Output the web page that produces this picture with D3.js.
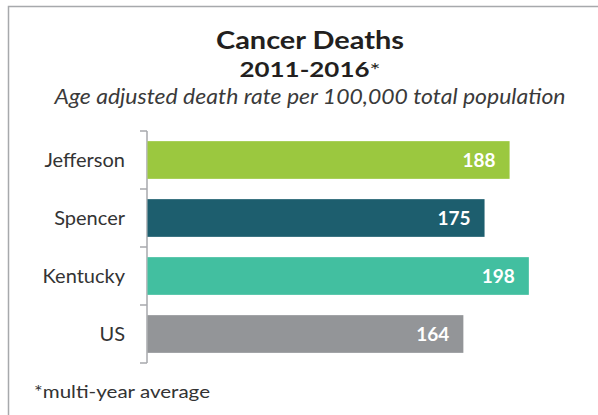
<!DOCTYPE html>
<html>
<head>
<meta charset="utf-8">
<script src="https://cdn.jsdelivr.net/npm/d3@7"></script>
<style>
  html, body { margin: 0; padding: 0; background: #fff; }
  svg { display: block; }
  text { font-family: Lato, "Open Sans", sans-serif; }
</style>
</head>
<body>
<svg id="chart" width="598" height="415"></svg>
<script>
const categories = ["Jefferson", "Spencer", "Kentucky", "US"];
const values = [188, 175, 198, 164];
const colors = ["#9bc83f", "#1d5e6e", "#42bfa0", "#939598"];

const svg = d3.select("#chart");
const W = 598, H = 415;

// panel frame (left and top edges visible)
svg.append("path")
  .attr("d", `M8.5,${H} L8.5,6.5 L${W},6.5`)
  .attr("fill", "none")
  .attr("stroke", "#a7a9ac")
  .attr("stroke-width", 1.5);

const cx = 310;
svg.append("text")
  .attr("x", cx).attr("y", 49)
  .attr("text-anchor", "middle")
  .attr("font-size", 25).attr("font-weight", 700)
  .attr("fill", "#231f20")
  .attr("textLength", 188).attr("lengthAdjust", "spacingAndGlyphs")
  .text("Cancer Deaths");

const sub = svg.append("text")
  .attr("x", cx).attr("y", 77)
  .attr("text-anchor", "middle")
  .attr("font-size", 20).attr("font-weight", 700)
  .attr("fill", "#231f20")
  .attr("textLength", 141).attr("lengthAdjust", "spacingAndGlyphs");
sub.append("tspan").text("2011-2016");
sub.append("tspan").attr("font-weight", 400).text("*");

svg.append("text")
  .attr("x", cx).attr("y", 104)
  .attr("text-anchor", "middle")
  .attr("font-size", 20.5).attr("font-style", "italic")
  .attr("fill", "#3a3a3a")
  .attr("textLength", 511).attr("lengthAdjust", "spacingAndGlyphs")
  .text("Age adjusted death rate per 100,000 total population");

const x = d3.scaleLinear().domain([0, 200]).range([147.5, 532.7]);
const y = d3.scaleBand().domain(categories).range([131, 363]).paddingInner(0.35).paddingOuter(0.175);

// category axis with ticks at band boundaries
const axisX = 147;
svg.append("line")
  .attr("x1", axisX).attr("x2", axisX)
  .attr("y1", y.range()[0]).attr("y2", y.range()[1])
  .attr("stroke", "#a7a9ac").attr("stroke-width", 1.5);
const bounds = d3.range(categories.length + 1).map(i => y.range()[0] + i * (y.range()[1] - y.range()[0]) / categories.length);
svg.selectAll(".tick").data(bounds).join("line")
  .attr("class", "tick")
  .attr("x1", axisX - 7).attr("x2", axisX)
  .attr("y1", d => d).attr("y2", d => d)
  .attr("stroke", "#a7a9ac").attr("stroke-width", 1.5);

svg.selectAll(".cat").data(categories).join("text")
  .attr("class", "cat")
  .attr("x", 125)
  .attr("y", d => y(d) + y.bandwidth() / 2)
  .attr("dy", "0.36em")
  .attr("text-anchor", "end")
  .attr("font-size", 20)
  .attr("fill", "#333")
  .text(d => d);

const data = categories.map((c, i) => ({ c, v: values[i], col: colors[i] }));

svg.selectAll(".bar").data(data).join("rect")
  .attr("class", "bar")
  .attr("x", x(0))
  .attr("y", d => y(d.c))
  .attr("width", d => x(d.v) - x(0))
  .attr("height", y.bandwidth())
  .attr("fill", d => d.col);

svg.selectAll(".val").data(data).join("text")
  .attr("class", "val")
  .attr("x", d => x(d.v) - 14)
  .attr("y", d => y(d.c) + y.bandwidth() / 2)
  .attr("dy", "0.36em")
  .attr("text-anchor", "end")
  .attr("font-size", 19).attr("font-weight", 700)
  .attr("fill", "#fff")
  .text(d => d.v);

svg.append("text")
  .attr("x", 34).attr("y", 398)
  .attr("font-size", 18)
  .attr("fill", "#333")
  .attr("textLength", 176).attr("lengthAdjust", "spacingAndGlyphs")
  .text("*multi-year average");
</script>
</body>
</html>
